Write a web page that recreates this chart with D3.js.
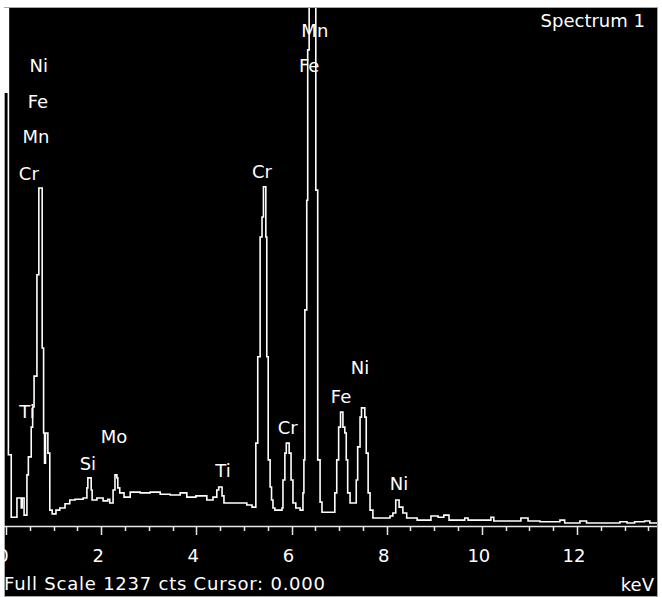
<!DOCTYPE html>
<html>
<head>
<meta charset="utf-8">
<script src="https://cdn.jsdelivr.net/npm/d3@7"></script>
<style>
  body { margin: 0; background: #fff; }
  svg { display: block; }
  text { font-family: "DejaVu Sans", sans-serif; font-size: 18px; fill: #fff; }
</style>
</head>
<body>
<svg id="chart" width="662" height="597"></svg>
<script>
// EDS spectrum, channel edges (keV) and counts
var energies = [
  0.00, 0.05, 0.11, 0.23, 0.32, 0.34, 0.38, 0.44, 0.47, 0.53, 0.56, 0.59, 0.65, 0.69, 0.76, 0.79,
  0.81, 0.83, 0.88, 0.92, 0.97, 1.05, 1.13, 1.24, 1.34, 1.45, 1.62, 1.70, 1.72, 1.79, 1.81, 1.91,
  2.04, 2.14, 2.18, 2.25, 2.29, 2.33, 2.35, 2.39, 2.48, 2.61, 2.82, 3.03, 3.24, 3.45, 3.66, 3.80,
  3.99, 4.22, 4.35, 4.43, 4.47, 4.54, 4.58, 5.06, 5.17, 5.25, 5.29, 5.34, 5.38, 5.41, 5.46, 5.48,
  5.51, 5.55, 5.58, 5.61, 5.65, 5.80, 5.82, 5.86, 5.89, 5.95, 5.99, 6.03, 6.09, 6.18, 6.24, 6.26,
  6.28, 6.32, 6.34, 6.37, 6.51, 6.55, 6.60, 6.64, 6.91, 6.95, 6.99, 7.03, 7.08, 7.12, 7.15, 7.18,
  7.23, 7.36, 7.39, 7.44, 7.47, 7.54, 7.57, 7.61, 7.65, 7.71, 8.07, 8.13, 8.19, 8.26, 8.34, 8.42,
  8.64, 8.93, 9.08, 9.20, 9.31, 9.64, 9.71, 10.19, 10.25, 10.82, 10.97, 11.22, 11.64, 11.74, 12.06, 12.20,
  12.90, 13.05, 13.21, 13.42, 13.53, 13.70
];
var counts = [
  1400, 170, 21, 67, 43, 67, 26, 122, 165, 236, 284, 358, 600, 807, 425, 222,
  150, 222, 174, 38, 29, 38, 43, 53, 62, 64, 67, 91, 115, 86, 62, 67,
  60, 64, 55, 86, 122, 115, 91, 79, 69, 81, 79, 81, 76, 74, 79, 69,
  72, 62, 69, 86, 93, 72, 55, 50, 45, 198, 404, 690, 738, 810, 690, 404,
  158, 93, 62, 43, 38, 43, 110, 174, 198, 174, 110, 55, 43, 38, 79, 158,
  516, 778, 1137, 1400, 802, 158, 57, 33, 79, 158, 236, 272, 236, 222, 158, 79,
  55, 110, 189, 260, 282, 260, 174, 79, 38, 19, 24, 31, 62, 45, 31, 19,
  14, 24, 21, 26, 14, 19, 14, 21, 12, 19, 12, 10, 14, 7, 12, 7,
  10, 7, 10, 12, 7, 7
];

// element markers: name, energy (keV), height (counts)
var peakNames  = ["Ni", "Fe", "Mn", "Cr", "Ti", "Si", "Mo", "Ti", "Cr", "Mn", "Fe", "Cr", "Fe", "Ni", "Ni"];
var peakKeV    = [0.69, 0.67, 0.63, 0.48, 0.44, 1.72, 2.27, 4.56, 5.38, 6.49, 6.37, 5.92, 7.04, 7.44, 8.26];
var peakLevel  = [1084, 998, 915, 826, 258, 134, 198, 117, 831, 1168, 1084, 220, 294, 363, 86];

var tickLabels = [0, 2, 4, 6, 8, 10, 12];
var fullScale = 1237;

var svg = d3.select("#chart");

// panel edges (don't use "top" here, it's window.top)
var panelL = 4, panelR = 657, panelT = 7, panelB = 596, base = 526;

var x = d3.scaleLinear().domain([0, 13.68]).range([6, 657]);
var y = d3.scaleLinear().domain([0, fullScale]).range([base, 8]);

// black panel
svg.append("rect")
    .attr("x", panelL + 0.5).attr("y", panelT + 0.5)
    .attr("width", panelR - panelL).attr("height", panelB - panelT)
    .attr("fill", "#000")
    .attr("stroke", "#a8a8a8");

svg.append("rect")
    .attr("x", panelL).attr("y", panelT + 1)
    .attr("width", 5).attr("height", 85)
    .attr("fill", "#fff");

svg.append("clipPath").attr("id", "plot")
  .append("rect")
    .attr("x", panelL).attr("y", panelT + 1)
    .attr("width", panelR - panelL).attr("height", base - panelT);

// spectrum trace
var points = energies.map(function(e, i) { return [e, counts[i]]; });

var line = d3.line()
    .x(function(d) { return x(d[0]); })
    .y(function(d) { return y(d[1]); })
    .curve(d3.curveStepAfter);

svg.append("path")
    .datum(points)
    .attr("clip-path", "url(#plot)")
    .attr("d", line)
    .attr("fill", "none")
    .attr("stroke", "#fff")
    .attr("stroke-width", 1.6);

// energy axis
var minor = d3.range(0, 13.7, 0.5);

var axis = svg.append("g").attr("class", "axis");

axis.append("line")
    .attr("x1", panelL).attr("x2", panelR)
    .attr("y1", base + 0.5).attr("y2", base + 0.5)
    .attr("stroke", "#e8e8e8")
    .attr("stroke-width", 1.5);

axis.selectAll("line.tick")
    .data(minor)
  .enter().append("line")
    .attr("class", "tick")
    .attr("x1", function(d) { return Math.round(x(d)) + 0.5; })
    .attr("x2", function(d) { return Math.round(x(d)) + 0.5; })
    .attr("y1", base)
    .attr("y2", function(d) { return d % 2 === 0 ? base + 9 : base + 5; })
    .attr("stroke", "#e8e8e8")
    .attr("stroke-width", 1.5);

axis.selectAll("text")
    .data(tickLabels)
  .enter().append("text")
    .attr("x", function(d) { return x(d) - 3; })
    .attr("y", 562)
    .attr("text-anchor", "middle")
    .text(function(d) { return d; });

// peak labels
svg.append("g").selectAll("text")
    .data(peakNames)
  .enter().append("text")
    .attr("x", function(d, i) { return x(peakKeV[i]); })
    .attr("y", function(d, i) { return y(peakLevel[i]); })
    .attr("text-anchor", "middle")
    .text(function(d) { return d; });

svg.append("text")
    .attr("x", 645).attr("y", 27)
    .attr("text-anchor", "end")
    .text("Spectrum 1");

svg.append("text")
    .attr("x", 4).attr("y", 590)
    .attr("textLength", 321)
    .attr("lengthAdjust", "spacing")
    .text("Full Scale " + fullScale + " cts Cursor: 0.000");

svg.append("text")
    .attr("x", 654).attr("y", 591)
    .attr("text-anchor", "end")
    .text("keV");
</script>
</body>
</html>
